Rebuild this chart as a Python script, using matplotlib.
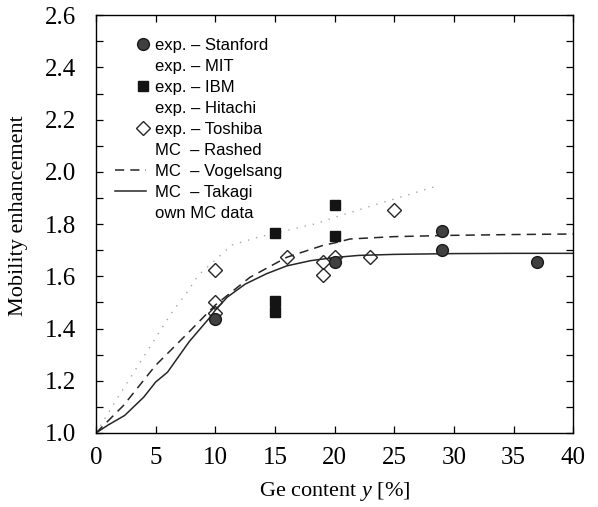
import matplotlib
matplotlib.use("Agg")
import matplotlib.pyplot as plt
from matplotlib.legend_handler import HandlerLine2D
from matplotlib.ticker import MultipleLocator

plt.rcParams["font.family"] = "Liberation Serif"
plt.rcParams["mathtext.fontset"] = "custom"
plt.rcParams["mathtext.it"] = "Liberation Serif:italic"
plt.rcParams["mathtext.rm"] = "Liberation Serif"

# experimental points
stanford_x = [10, 20, 29, 29, 37]
stanford_y = [1.435, 1.655, 1.775, 1.70, 1.655]
ibm_x = [15, 15, 15, 20, 20]
ibm_y = [1.765, 1.505, 1.465, 1.875, 1.755]
toshiba_x = [10, 10, 10, 16, 19, 19, 20, 23, 25]
toshiba_y = [1.625, 1.50, 1.46, 1.675, 1.655, 1.605, 1.675, 1.675, 1.855]

# MC curves
rashed_x = [0, 0.9, 1.4, 2.4, 3.9, 6.3, 7.5, 8.6, 11.4, 13.6, 18.3, 20.3, 24.4, 28.6]
rashed_y = [1.0, 1.067, 1.105, 1.177, 1.285, 1.458, 1.53, 1.605, 1.72, 1.75, 1.80, 1.83, 1.888, 1.946]
vogel_x = [0, 2.3, 5, 7.8, 10, 12.9, 16, 19, 20.2, 21.3, 25, 30, 35, 40]
vogel_y = [1.0, 1.105, 1.259, 1.387, 1.49, 1.596, 1.673, 1.718, 1.73, 1.743, 1.752, 1.757, 1.76, 1.762]
takagi_x = [0, 1, 2.4, 4, 5, 6, 7.8, 9.5, 10, 11, 12.5, 14.3, 16, 18, 20, 22, 25, 30, 35, 40]
takagi_y = [1.0, 1.03, 1.067, 1.137, 1.195, 1.233, 1.349, 1.44, 1.47, 1.52, 1.57, 1.61, 1.64,
            1.66, 1.672, 1.68, 1.684, 1.687, 1.688, 1.688]

labels = ["exp. \u2013 Stanford", "exp. \u2013 MIT", "exp. \u2013 IBM", "exp. \u2013 Hitachi",
          "exp. \u2013 Toshiba", "MC  \u2013 Rashed", "MC  \u2013 Vogelsang", "MC  \u2013 Takagi",
          "own MC data"]


class RightMarker(HandlerLine2D):
    # marker-only entries: shift the single marker to the right end of the handle
    def get_xdata(self, legend, xdescent, ydescent, width, height, fontsize):
        c = -xdescent + 0.92 * width
        return [c - 1, c + 1], [c]


fig = plt.figure(figsize=(5.98, 5.07), dpi=100)
ax = fig.add_axes([0.1605, 0.146, 0.798, 0.824])

h_rashed, = ax.plot(rashed_x, rashed_y, color="0.65", lw=1.0, ls=(0, (1, 5)))
h_vogel, = ax.plot(vogel_x, vogel_y, color="0.15", lw=1.1, ls=(0, (6, 4)))
h_takagi, = ax.plot(takagi_x, takagi_y, color="0.15", lw=1.1)
h_tosh, = ax.plot(toshiba_x, toshiba_y, ls="none", marker="D", ms=7.5, mfc="none",
                  mec="0.15", mew=1.0)
h_ibm, = ax.plot(ibm_x, ibm_y, ls="none", marker="s", ms=6.5, color="0.08")
h_stan, = ax.plot(stanford_x, stanford_y, ls="none", marker="o", ms=8.5, mfc="0.25",
                  mec="0.1")

blank = ax.plot([], [], ls="none")[0]
blank_rashed = ax.plot([], [], ls="none")[0]
handles = [h_stan, blank, h_ibm, blank, h_tosh, blank_rashed, h_vogel, h_takagi, blank]
ax.legend(handles, labels, loc="upper left", bbox_to_anchor=(0.022, 0.965), frameon=False,
          borderpad=0, handlelength=1.85, handletextpad=0.55, labelspacing=0.36,
          prop={"family": "Liberation Sans", "size": 12},
          handler_map={h: RightMarker() for h in [h_stan, h_ibm, h_tosh]})

ax.set_xlim(0, 40)
ax.set_ylim(1.0, 2.6)
ax.xaxis.set_major_locator(MultipleLocator(5))
ax.yaxis.set_major_locator(MultipleLocator(0.2))
ax.yaxis.set_minor_locator(MultipleLocator(0.1))
ax.tick_params(which="both", direction="in", top=True, right=True, length=5, width=0.9,
               labelsize=18)
ax.tick_params(axis="y", pad=14)
ax.tick_params(axis="x", pad=10)
ax.set_yticks(ax.get_yticks(), [f"{v:.1f}" for v in ax.get_yticks()])
ax.set_ylim(1.0, 2.6)
for sp in ax.spines.values():
    sp.set_linewidth(1.0)

ax.set_ylabel("Mobility enhancement", fontsize=16)
ax.yaxis.set_label_coords(-0.143, 0.52)
ax.set_xlabel("Ge content $\\mathit{y}$ [%]", fontsize=16)
ax.xaxis.set_label_coords(0.5, -0.112)

fig.savefig("out.png", dpi=100)
